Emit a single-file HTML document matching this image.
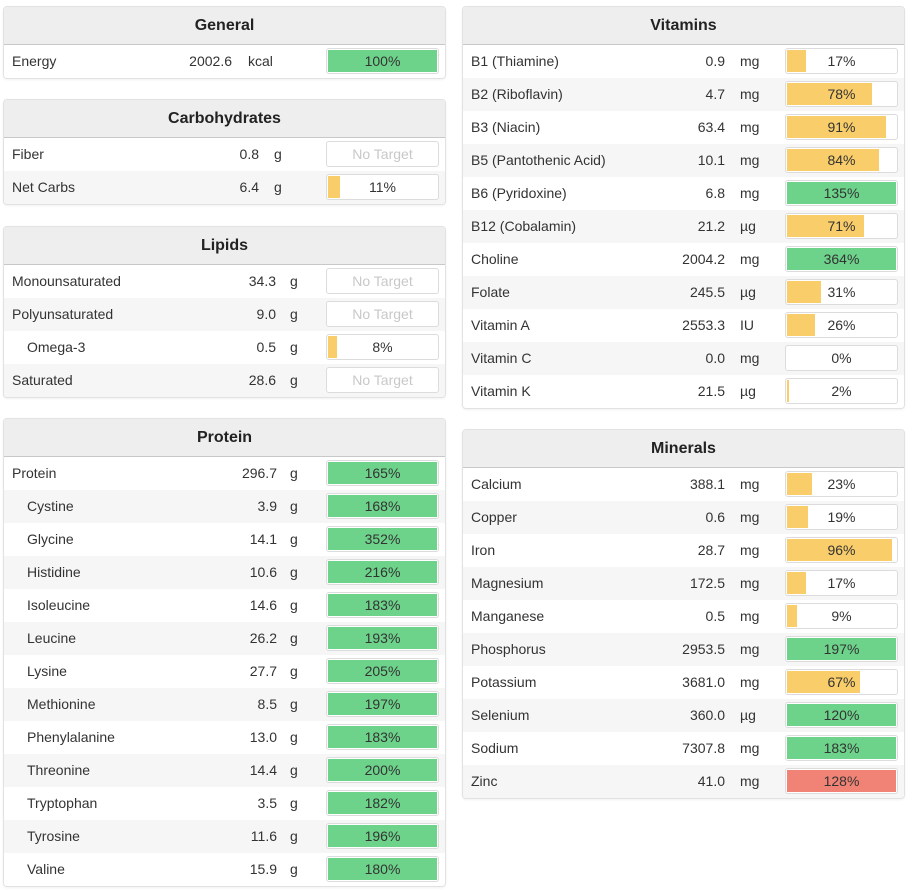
<!DOCTYPE html>
<html><head><meta charset="utf-8">
<style>
body{margin:0;width:912px;height:890px;background:#fff;font-family:"Liberation Sans",sans-serif;color:#333;position:relative;overflow:hidden}
.panel{position:absolute;border:1px solid #e2e2e2;border-radius:4px;background:#fff;box-shadow:0 1px 2px rgba(0,0,0,0.06);overflow:hidden}
.hdr{height:37px;background:#eee;border-bottom:1px solid #c8c8c8;text-align:center;font-weight:bold;font-size:16px;line-height:38px;color:#222}
.row{position:relative;height:33px;font-size:14px;line-height:33px;background:#fff}
.row:nth-child(even){background:#f6f6f6}
.name{position:absolute;left:8px}
.ind{left:23px}
.val{position:absolute;text-align:right}
.unit{position:absolute}
.bar{position:absolute;top:3px;width:111px;height:24px;border:1px solid #dcdcdc;border-radius:3px;background:#fff;overflow:hidden}
.fill{position:absolute;left:1px;top:1px;bottom:1px}
.lbl{position:absolute;left:0;right:0;text-align:center;line-height:24px;font-size:14px;color:#333}
.nt{color:#c8c8c8}
</style></head><body>
<script>
// Data arrays
const generalNames=["Energy"], generalVals=["2002.6"], generalUnits=["kcal"], generalPct=[100];
const carbNames=["Fiber","Net Carbs"], carbVals=["0.8","6.4"], carbUnits=["g","g"], carbPct=[null,11];
const lipidNames=["Monounsaturated","Polyunsaturated","Omega-3","Saturated"], lipidVals=["34.3","9.0","0.5","28.6"], lipidUnits=["g","g","g","g"], lipidPct=[null,null,8,null];
const protNames=["Protein","Cystine","Glycine","Histidine","Isoleucine","Leucine","Lysine","Methionine","Phenylalanine","Threonine","Tryptophan","Tyrosine","Valine"];
const protVals=["296.7","3.9","14.1","10.6","14.6","26.2","27.7","8.5","13.0","14.4","3.5","11.6","15.9"];
const protPct=[165,168,352,216,183,193,205,197,183,200,182,196,180];
const vitNames=["B1 (Thiamine)","B2 (Riboflavin)","B3 (Niacin)","B5 (Pantothenic Acid)","B6 (Pyridoxine)","B12 (Cobalamin)","Choline","Folate","Vitamin A","Vitamin C","Vitamin K"];
const vitVals=["0.9","4.7","63.4","10.1","6.8","21.2","2004.2","245.5","2553.3","0.0","21.5"];
const vitUnits=["mg","mg","mg","mg","mg","µg","mg","µg","IU","mg","µg"];
const vitPct=[17,78,91,84,135,71,364,31,26,0,2];
const minNames=["Calcium","Copper","Iron","Magnesium","Manganese","Phosphorus","Potassium","Selenium","Sodium","Zinc"];
const minVals=["388.1","0.6","28.7","172.5","0.5","2953.5","3681.0","360.0","7307.8","41.0"];
const minUnits=["mg","mg","mg","mg","mg","mg","mg","µg","mg","mg"];
const minPct=[23,19,96,17,9,197,67,120,183,128];
const minOver=[false,false,false,false,false,false,false,false,false,true];

function panel(title,left,top,names,vals,units,pct,valRight,unitLeft,indent,over){
  const p=document.createElement('div');
  p.className='panel';
  
  
  p.style.left=left+'px';p.style.top=top+'px';p.style.width='441px';
  const h=document.createElement('div');h.className='hdr';h.textContent=title;
  
  
  p.appendChild(h);
  const body=document.createElement('div');
  names.forEach((n,i)=>{
    const r=document.createElement('div');r.className='row';
    
    
    const nm=document.createElement('span');nm.className='name'+(indent&&indent[i]?' ind':'');nm.textContent=n;
    
    
    const v=document.createElement('span');v.className='val';v.style.right=(441-valRight)+'px';v.textContent=vals[i];
    
    
    const u=document.createElement('span');u.className='unit';u.style.left=unitLeft+'px';u.textContent=units[i];
    
    
    const b=document.createElement('div');b.className='bar';b.style.left='322px';
    
    
    const l=document.createElement('div');l.className='lbl';
    if(pct[i]===null){l.classList.add('nt');l.textContent='No Target';}
    else{
      const f=document.createElement('div');f.className='fill';
      
      
      const w=Math.min(pct[i],100)/100*109;
      f.style.width=w+'px';
      f.style.background=(over&&over[i])?'#f08375':(pct[i]>=100?'#6dd38b':'#f8cd6a');
      b.appendChild(f);
      l.textContent=pct[i]+'%';
    }
    
    
    b.appendChild(l);
    r.append(nm,v,u,b);body.appendChild(r);
  });
  p.appendChild(body);
  document.body.appendChild(p);
}
panel('General',3,6,generalNames,generalVals,generalUnits,generalPct,228,244);
panel('Carbohydrates',3,99,carbNames,carbVals,carbUnits,carbPct,255,270);
panel('Lipids',3,226,lipidNames,lipidVals,lipidUnits,lipidPct,272,286,[0,0,1,0]);
panel('Protein',3,418,protNames,protVals,protNames.map(()=> 'g'),protPct,273,286,protNames.map((_,i)=>i>0));
panel('Vitamins',462,6,vitNames,vitVals,vitUnits,vitPct,262,277);
panel('Minerals',462,429,minNames,minVals,minUnits,minPct,262,277,null,minOver);
</script>
</body></html>
